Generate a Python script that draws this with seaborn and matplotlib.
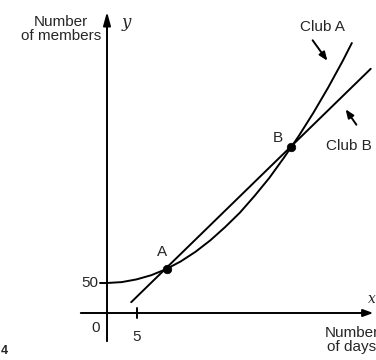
import matplotlib
matplotlib.use("Agg")
import matplotlib.pyplot as plt
import seaborn as sns
import pandas as pd

# Data (days, members)
club_a_days = [0, 2.5, 5, 7.5, 10, 12.5, 15, 17.5, 20, 22.5, 25, 27.5, 30, 32.5, 35, 37.5, 40, 41.5]
club_a_members = [50, 51.5, 56, 63, 73, 86, 102, 121, 143, 167, 195, 225, 259, 295, 334, 376, 421, 450]
club_b_days = [4.1, 44.7]
club_b_members = [18, 407]
point_names = ["A", "B"]
point_days = [10.2, 31.2]
point_members = [74, 276]
x_ticks = [5]
y_ticks = [50]

sns.set_style("white")
plt.rcParams["font.family"] = ["Liberation Sans Narrow", "Liberation Sans", "DejaVu Sans"]

fig = plt.figure(figsize=(3.76, 3.6), dpi=100)
ax = fig.add_axes([0, 0, 1, 1])

# pixel -> data helpers (layout only)
def X(px):
    return (px - 107) / 5.9

def Y(py):
    return (313 - py) / 0.6

ax.set_xlim(X(0), X(376))
ax.set_ylim(Y(360), Y(0))
ax.axis("off")

lw = 1.4
dfa = pd.DataFrame({"days": club_a_days, "members": club_a_members})
dfb = pd.DataFrame({"days": club_b_days, "members": club_b_members})
sns.lineplot(data=dfa, x="days", y="members", ax=ax, color="black", lw=lw, sort=True)
sns.lineplot(data=dfb, x="days", y="members", ax=ax, color="black", lw=lw)
dfp = pd.DataFrame({"days": point_days, "members": point_members})
sns.scatterplot(data=dfp, x="days", y="members", ax=ax, color="black", s=38, zorder=5, edgecolor="black")

# axes with arrows
ax.annotate("", xy=(X(376), 0), xytext=(X(78), 0),
            arrowprops=dict(arrowstyle="-|>,head_length=0.6,head_width=0.22", color="black", lw=lw))
ax.annotate("", xy=(0, Y(9)), xytext=(0, Y(344)),
            arrowprops=dict(arrowstyle="-|>,head_length=0.8,head_width=0.22", color="black", lw=lw))

fs = 11
# ticks
for t in x_ticks:
    ax.plot([t, t], [Y(308), Y(318)], color="black", lw=lw)
    ax.text(t, Y(337), str(t), ha="center", va="center", fontsize=fs)
for t in y_ticks:
    ax.plot([X(100), 0], [t, t], color="black", lw=lw)
    ax.text(X(98), t, str(t), ha="right", va="center", fontsize=fs)
ax.text(X(96), Y(328), "0", ha="center", va="center", fontsize=fs)

ax.text(X(61), Y(29), "Number\nof members", ha="center", va="center", fontsize=fs, linespacing=1.05)
ax.text(X(126), Y(22), "y", ha="center", va="center", fontsize=12, family="DejaVu Serif", style="italic")
ax.text(X(352), Y(340), "Number\nof days", ha="center", va="center", fontsize=fs, linespacing=1.05)
ax.text(X(368), Y(299), "x", ha="left", va="center", fontsize=10, family="DejaVu Serif", style="italic")

for name, d, m, (px, py) in zip(point_names, point_days, point_members, [(162, 252), (278, 138)]):
    ax.text(X(px), Y(py), name, ha="center", va="center", fontsize=fs)

ax.text(X(322), Y(27), "Club A", ha="center", va="center", fontsize=fs)
ax.text(X(349), Y(146), "Club B", ha="center", va="center", fontsize=fs)
ax.annotate("", xy=(X(329), Y(63)), xytext=(X(311), Y(38)),
            arrowprops=dict(arrowstyle="-|>,head_length=0.5,head_width=0.2", color="black", lw=lw))
ax.annotate("", xy=(X(344), Y(107)), xytext=(X(358), Y(127)),
            arrowprops=dict(arrowstyle="-|>,head_length=0.5,head_width=0.2", color="black", lw=lw))

ax.text(X(1), Y(351), "4", ha="left", va="center", fontsize=9, fontweight="bold")

fig.savefig("out.png", dpi=100)
